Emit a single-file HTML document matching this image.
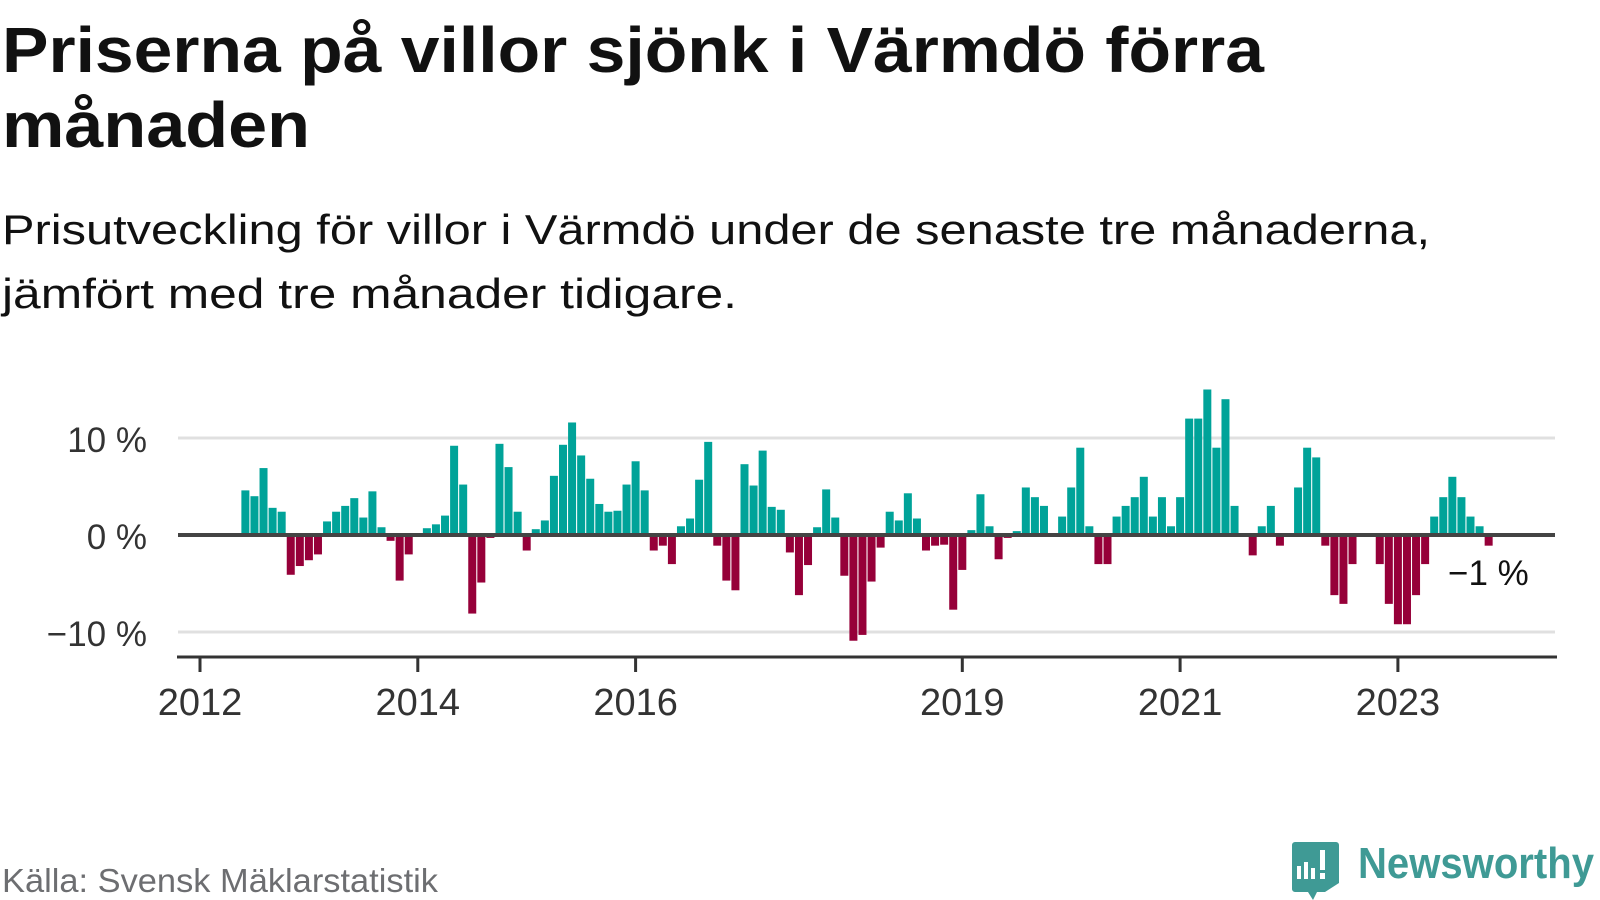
<!DOCTYPE html>
<html><head><meta charset="utf-8"><style>
html,body{margin:0;padding:0;background:#fff;width:1600px;height:900px;overflow:hidden}
svg{display:block;font-family:"Liberation Sans",sans-serif}
</style></head><body>
<svg id="chart" width="1600" height="900" viewBox="0 0 1600 900">
<text x="2" y="72" font-size="64" font-weight="bold" fill="#111" textLength="1262" lengthAdjust="spacingAndGlyphs">Priserna på villor sjönk i Värmdö förra</text>
<text x="2" y="147" font-size="64" font-weight="bold" fill="#111" textLength="308" lengthAdjust="spacingAndGlyphs">månaden</text>
<text x="2" y="244" font-size="42" fill="#111" textLength="1428" lengthAdjust="spacingAndGlyphs">Prisutveckling för villor i Värmdö under de senaste tre månaderna,</text>
<text x="2" y="308" font-size="42" fill="#111" textLength="735" lengthAdjust="spacingAndGlyphs">jämfört med tre månader tidigare.</text>
<g id="grid"></g>
<g id="bars"></g>
<g id="axes"></g>
<text x="1448" y="585" font-size="35" fill="#111">−1 %</text>
<text x="2" y="892" font-size="33" fill="#6d6e71" textLength="436" lengthAdjust="spacingAndGlyphs">Källa: Svensk Mäklarstatistik</text>
<g>
<path d="M1292 842 h44 a3 3 0 0 1 3 3 v38 l-14 9 h-8 l-4 8 l-5 -8 h-13 a3 3 0 0 1 -3 -3 v-44 a3 3 0 0 1 3 -3z" fill="#3f9a95"/>
<rect x="1297" y="866" width="4" height="13" fill="#fff"/><rect x="1304" y="862" width="4" height="17" fill="#fff"/><rect x="1311" y="868" width="4" height="11" fill="#fff"/><rect x="1320" y="850" width="5" height="20" fill="#fff"/><rect x="1320" y="873" width="5" height="6" fill="#fff"/>
<text x="1358" y="878" font-size="44" font-weight="bold" fill="#3f9a95" textLength="236" lengthAdjust="spacingAndGlyphs">Newsworthy</text>
</g>
</svg>
<script>
// Monthly values from Jun 2012 to Nov 2023 (%)
const startMonthIndex = 5; // months after Jan 2012
const values = [4.6,4.0,6.9,2.8,2.4,-4.1,-3.2,-2.6,-2.0,1.4,2.4,3.0,3.8,1.8,4.5,0.8,-0.6,-4.7,-2.0,0,0.7,1.1,2.0,9.2,5.2,-8.1,-4.9,-0.3,9.4,7.0,2.4,-1.6,0.6,1.5,6.1,9.3,11.6,8.2,5.8,3.2,2.4,2.5,5.2,7.6,4.6,-1.6,-1.1,-3.0,0.9,1.7,5.7,9.6,-1.1,-4.7,-5.7,7.3,5.1,8.7,2.9,2.6,-1.8,-6.2,-3.1,0.8,4.7,1.8,-4.2,-10.9,-10.3,-4.8,-1.3,2.4,1.5,4.3,1.7,-1.6,-1.1,-1.0,-7.7,-3.6,0.5,4.2,0.9,-2.5,-0.3,0.4,4.9,3.9,3.0,0,1.9,4.9,9.0,0.9,-3.0,-3.0,1.9,3.0,3.9,6.0,1.9,3.9,0.9,3.9,12.0,12.0,15.0,9.0,14.0,3.0,0,-2.1,0.9,3.0,-1.1,0,4.9,9.0,8.0,-1.1,-6.2,-7.1,-3.0,0,0,-3.0,-7.1,-9.2,-9.2,-6.2,-3.0,1.9,3.9,6.0,3.9,1.9,0.9,-1.1];
const yTicks = [10,0,-10];
const yTickLabels = ["10 %","0 %","−10 %"];
const xTickYears = [2012,2014,2016,2019,2021,2023];

const NS='http://www.w3.org/2000/svg';
const x0=200, pxPerMonth=9.075, y0=535, pxPerPct=9.7;
const xScale = m => x0 + m*pxPerMonth;
const yScale = v => y0 - v*pxPerPct;
function mk(tag, attrs, parent){const e=document.createElementNS(NS,tag);for(const k in attrs)e.setAttribute(k,attrs[k]);parent.appendChild(e);return e;}
const grid=document.getElementById('grid'), bars=document.getElementById('bars'), axes=document.getElementById('axes');
yTicks.forEach((t,i)=>{
  if(t!==0){const l=mk('line',{x1:178,x2:1555,y1:yScale(t),y2:yScale(t),stroke:'#e0e0e0','stroke-width':3},grid);
    
    }
  const tx=mk('text',{x:147,y:yScale(t)+14,'font-size':35,fill:'#333','text-anchor':'end'},axes);
  tx.textContent=yTickLabels[i];
  
  
});
values.forEach((v,i)=>{
  const cx=xScale(startMonthIndex+i);
  const y=v>=0?yScale(v):y0, h=Math.abs(v)*pxPerPct;
  const r=mk('rect',{x:cx-4,y:y,width:8,height:h,fill:v>=0?'#00a399':'#960039'},bars);
  
  
});
const zl=mk('line',{x1:178,x2:1555,y1:y0,y2:y0,stroke:'#444','stroke-width':4},axes);


const ax=mk('line',{x1:177,x2:1557,y1:657,y2:657,stroke:'#333','stroke-width':3},axes);


xTickYears.forEach(yr=>{
  const x=xScale((yr-2012)*12);
  const tk=mk('line',{x1:x,x2:x,y1:657,y2:672,stroke:'#333','stroke-width':3},axes);
  
  
  const tl=mk('text',{x:x,y:715,'font-size':38,fill:'#333','text-anchor':'middle'},axes);
  tl.textContent=yr;
  
  
});
</script>
</body></html>
